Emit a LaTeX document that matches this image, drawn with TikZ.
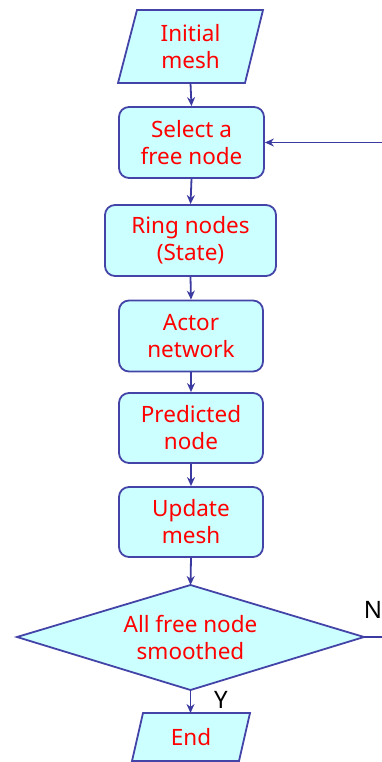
\documentclass[tikz,border=0pt]{standalone}
\usepackage{fontspec}
\setmainfont{Noto Sans}
\usetikzlibrary{arrows.meta}
\definecolor{boxfill}{HTML}{CCFFFF}
\definecolor{boxline}{HTML}{4444A8}
\definecolor{arrowc}{HTML}{3A3AA0}
\definecolor{txt}{HTML}{FF0000}
\begin{document}
\begin{tikzpicture}[x=1pt,y=-1pt,
  every node/.style={font=\fontsize{22.5}{27}\selectfont, text=txt, align=center, inner sep=0pt},
  procbox/.style={draw=boxline, fill=boxfill, line width=1.8pt, rounded corners=10pt},
  shapeline/.style={draw=boxline, fill=boxfill, line width=1.8pt},
  flow/.style={draw=arrowc, line width=1.8pt, -{Stealth[length=9pt,width=8pt]}},
  lbl/.style={text=black, font=\fontsize{24}{28}\selectfont}]
\useasboundingbox (0,0) rectangle (382,762);
% Initial mesh parallelogram
\path[shapeline] (137,10) -- (263,10) -- (245,83) -- (118,83) -- cycle;
\node[minimum width=127pt, minimum height=73pt] (init) at (190.5,46.5) {Initial\\mesh};
% boxes
\node[procbox, minimum width=145pt, minimum height=71pt] (sel) at (191.5,142.5) {Select a\\free node};
\node[procbox, minimum width=171pt, minimum height=71pt] (ring) at (190.5,240.5) {Ring nodes\\(State)};
\node[procbox, minimum width=144pt, minimum height=71pt] (actor) at (191,336) {Actor\\network};
\node[procbox, minimum width=144pt, minimum height=70pt] (pred) at (191,428) {Predicted\\node};
\node[procbox, minimum width=144pt, minimum height=70pt] (upd) at (191,522) {Update\\mesh};
% diamond
\path[shapeline] (190.5,585) -- (364,637) -- (190.5,690) -- (17,637) -- cycle;
\coordinate (diatop) at (190.5,585);
\coordinate (diabot) at (190.5,690);
\coordinate (diaeast) at (364,637);
\node (dia) at (190.5,637) {All free node\\smoothed};
% End parallelogram
\path[shapeline] (143,713) -- (250,713) -- (239,761) -- (132,761) -- cycle;
\coordinate (endtop) at (190.5,713);
\node (endn) at (191,737) {End};
% connectors
\draw[flow] (init.south) -- (sel.north);
\draw[flow] (sel.south) -- (ring.north);
\draw[flow] (ring.south) -- (actor.north);
\draw[flow] (actor.south) -- (pred.north);
\draw[flow] (pred.south) -- (upd.north);
\draw[flow] (upd.south) -- (diatop);
\draw[flow] (diabot) -- (endtop);
\begin{scope}
\clip (0,0) rectangle (382,762);
\coordinate (rt) at (390,637);
\draw[flow] (diaeast) -- (rt) |- (sel.east);
\end{scope}
\node[lbl] (ylab) at (221,700) {Y};
\node[lbl] (nlab) at (373,610) {N};
\end{tikzpicture}
\end{document}
